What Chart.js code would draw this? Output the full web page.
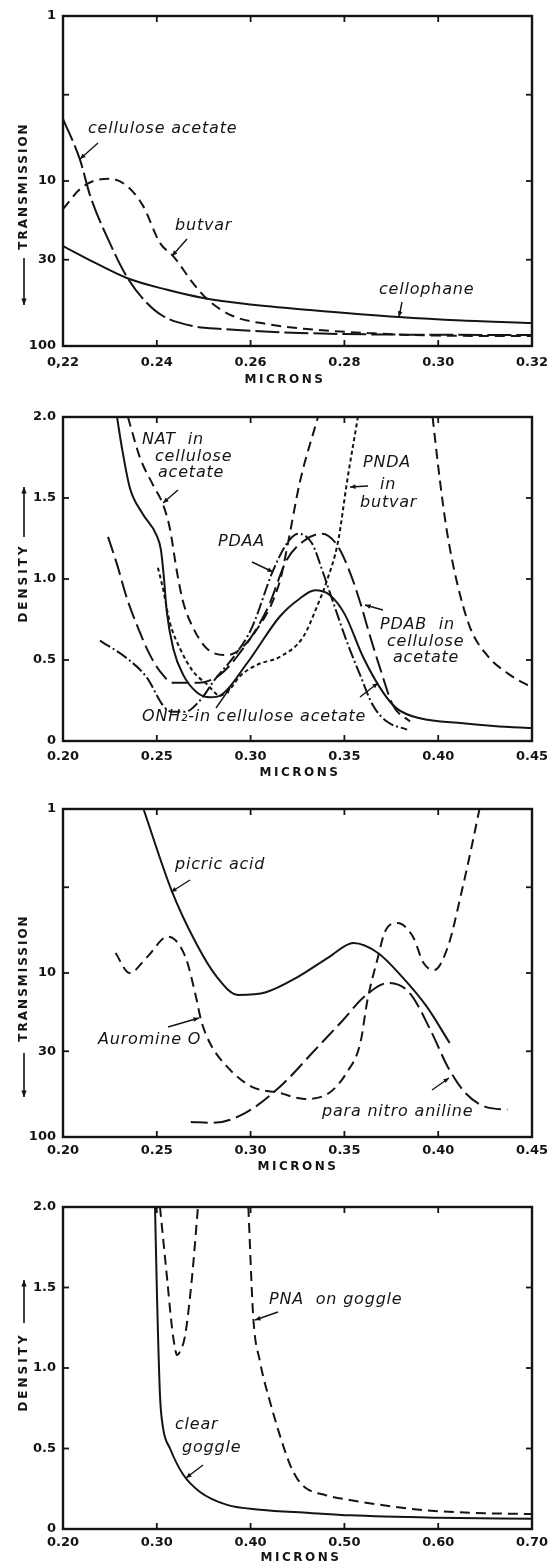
<!DOCTYPE html>
<html>
<head>
<meta charset="utf-8">
<script src="https://cdn.jsdelivr.net/npm/chart.js@4.4.1/dist/chart.umd.min.js"></script>
<style>
html,body{margin:0;padding:0;background:#fff;}
#page{position:relative;width:548px;height:1566px;overflow:hidden;background:#fff;}
.panel{position:absolute;left:0;width:548px;}
canvas{display:block;}
</style>
</head>
<body>
<div id="page">
  <div class="panel" style="top:0px;height:392px"><canvas id="c1" width="548" height="392"></canvas></div>
  <div class="panel" style="top:392px;height:396px"><canvas id="c2" width="548" height="396"></canvas></div>
  <div class="panel" style="top:788px;height:390px"><canvas id="c3" width="548" height="390"></canvas></div>
  <div class="panel" style="top:1178px;height:388px"><canvas id="c4" width="548" height="388"></canvas></div>
</div>
<script>
// ---------------- DATA ----------------
// Panel 1: transmission (%) vs microns
const p1XTicks = [0.22, 0.24, 0.26, 0.28, 0.30, 0.32];
const p1XLabels = ['0,22', '0.24', '0.26', '0.28', '0.30', '0.32'];
const p1YTicks = [1, 3, 10, 30, 100];
const p1YLabels = ['1', '', '10', '30', '100'];

const cellophaneX = [0.2200, 0.2270, 0.2336, 0.2420, 0.2499, 0.2600, 0.2727, 0.2916, 0.3050, 0.3200];
const cellophaneT = [24.8, 31.5, 38.7, 45.5, 51.2, 56.0, 60.5, 66.7, 70.0, 72.5];

const celluloseAcetateX = [0.2200, 0.2236, 0.2258, 0.2300, 0.2339, 0.2379, 0.2413, 0.2477, 0.2541, 0.2620, 0.2705, 0.2850, 0.3000, 0.3200];
const celluloseAcetateT = [4.2, 7.4, 12.3, 23.8, 39.3, 54.9, 65.8, 75.7, 78.9, 81.5, 83.4, 85.0, 85.5, 85.8];

const butvarX = [0.2200, 0.2236, 0.2265, 0.2300, 0.2336, 0.2371, 0.2407, 0.2435, 0.2477, 0.2507, 0.2562, 0.2635, 0.2720, 0.2850, 0.3000, 0.3200];
const butvarT = [14.8, 11.2, 10.0, 9.7, 10.7, 14.2, 23.8, 28.5, 41.5, 51.9, 65.8, 73.6, 78.9, 83.5, 86.5, 87.0];

// Panel 2: density vs microns
const p2XTicks = [0.20, 0.25, 0.30, 0.35, 0.40, 0.45];
const p2XLabels = ['0.20', '0.25', '0.30', '0.35', '0.40', '0.45'];
const p2YTicks = [0, 0.5, 1.0, 1.5, 2.0];
const p2YLabels = ['0', '0.5', '1.0', '1.5', '2.0'];

const onh2X = [0.2288, 0.2314, 0.2357, 0.2426, 0.2499, 0.2522, 0.2537, 0.2553, 0.2588, 0.2640, 0.2714, 0.2784, 0.2837, 0.2981, 0.3157, 0.3263, 0.3343, 0.3423, 0.3503, 0.3599, 0.3706, 0.3780, 0.3903, 0.4132, 0.4383, 0.4500];
const onh2D = [2.0, 1.81, 1.56, 1.40, 1.27, 1.18, 1.02, 0.80, 0.57, 0.41, 0.30, 0.27, 0.28, 0.48, 0.77, 0.88, 0.93, 0.90, 0.78, 0.52, 0.30, 0.20, 0.14, 0.11, 0.086, 0.08];

const natX = [0.2346, 0.2410, 0.2480, 0.2533, 0.2570, 0.2608, 0.2640, 0.2693, 0.2768, 0.2874, 0.3034, 0.3157, 0.3194, 0.3263, 0.3359, 0.3700, 0.3970, 0.4010, 0.4047, 0.4100, 0.4170, 0.4260, 0.4380, 0.4500];
const natD = [2.0, 1.75, 1.58, 1.46, 1.31, 1.04, 0.86, 0.70, 0.57, 0.53, 0.69, 0.99, 1.19, 1.60, 2.0, null, 2.0, 1.60, 1.29, 0.98, 0.70, 0.53, 0.41, 0.33];

const pndaX = [0.2506, 0.2533, 0.2570, 0.2624, 0.2693, 0.2768, 0.2837, 0.2890, 0.2943, 0.3034, 0.3157, 0.3279, 0.3354, 0.3407, 0.3466, 0.3514, 0.3572];
const pndaD = [1.07, 0.94, 0.73, 0.57, 0.43, 0.35, 0.28, 0.32, 0.40, 0.47, 0.52, 0.64, 0.83, 0.99, 1.23, 1.60, 2.0];

const pdabX = [0.2240, 0.2288, 0.2341, 0.2410, 0.2464, 0.2517, 0.2586, 0.2730, 0.2837, 0.2927, 0.3087, 0.3194, 0.3290, 0.3381, 0.3461, 0.3530, 0.3583, 0.3636, 0.3690, 0.3759, 0.3850];
const pdabD = [1.26, 1.09, 0.88, 0.67, 0.53, 0.43, 0.36, 0.36, 0.41, 0.52, 0.81, 1.12, 1.24, 1.28, 1.21, 1.04, 0.86, 0.65, 0.45, 0.22, 0.12];

const pdaaX = [0.2197, 0.2341, 0.2448, 0.2533, 0.2581, 0.2650, 0.2730, 0.2810, 0.2917, 0.3007, 0.3119, 0.3194, 0.3253, 0.3327, 0.3386, 0.3439, 0.3514, 0.3583, 0.3652, 0.3727, 0.3834];
const pdaaD = [0.62, 0.51, 0.39, 0.22, 0.18, 0.18, 0.25, 0.38, 0.53, 0.70, 1.05, 1.22, 1.28, 1.22, 1.04, 0.86, 0.61, 0.41, 0.22, 0.12, 0.07];

// Panel 3: transmission (%) vs microns
const p3XTicks = [0.20, 0.25, 0.30, 0.35, 0.40, 0.45];
const p3XLabels = ['0.20', '0.25', '0.30', '0.35', '0.40', '0.45'];
const p3YTicks = [1, 3, 10, 30, 100];
const p3YLabels = ['1', '', '10', '30', '100'];

const picricX = [0.2429, 0.2578, 0.2709, 0.2821, 0.2933, 0.3082, 0.3250, 0.3418, 0.3548, 0.3679, 0.3809, 0.3940, 0.4061];
const picricT = [1.0, 3.12, 6.56, 10.6, 13.6, 13.1, 10.6, 8.0, 6.56, 7.55, 10.6, 16.1, 26.7];

const auromineX = [0.2280, 0.2354, 0.2448, 0.2559, 0.2653, 0.2709, 0.2736, 0.2783, 0.2877, 0.3007, 0.3156, 0.3287, 0.3418, 0.3511, 0.3585, 0.3623, 0.3679, 0.3716, 0.3782, 0.3865, 0.3922, 0.3978, 0.4052, 0.4127, 0.4183, 0.4220];
const auromineT = [7.55, 10.0, 8.0, 6.0, 8.0, 14.0, 19.4, 26.7, 37.5, 49.4, 53.9, 58.6, 53.9, 40.7, 26.7, 14.6, 8.0, 5.6, 4.96, 6.0, 8.7, 9.6, 6.9, 3.12, 1.6, 1.0];

const paraNitroX = [0.2681, 0.2802, 0.2970, 0.3156, 0.3343, 0.3492, 0.3604, 0.3735, 0.3847, 0.3959, 0.4052, 0.4145, 0.4257, 0.4369];
const paraNitroT = [81, 82, 71.5, 49.4, 29.5, 19.4, 14.0, 11.5, 13.2, 22.3, 37.5, 53.9, 65.7, 68];

// Panel 4: density vs microns
const p4XTicks = [0.20, 0.30, 0.40, 0.50, 0.60, 0.70];
const p4XLabels = ['0.20', '0.30', '0.40', '0.50', '0.60', '0.70'];
const p4YTicks = [0, 0.5, 1.0, 1.5, 2.0];
const p4YLabels = ['0', '0.5', '1.0', '1.5', '2.0'];

const clearGoggleX = [0.2981, 0.3002, 0.3034, 0.3066, 0.3141, 0.3279, 0.3461, 0.3749, 0.4100, 0.4633, 0.5057, 0.6000, 0.7000];
const clearGoggleD = [2.0, 1.45, 0.83, 0.63, 0.50, 0.34, 0.23, 0.15, 0.12, 0.10, 0.085, 0.07, 0.063];

const pnaGoggleX = [0.3034, 0.3109, 0.3162, 0.3195, 0.3215, 0.3245, 0.3301, 0.3375, 0.3439, 0.3700, 0.3976, 0.4029, 0.4100, 0.4207, 0.4313, 0.4420, 0.4500, 0.4600, 0.4800, 0.5057, 0.5800, 0.6400, 0.7000];
const pnaGoggleD = [2.0, 1.56, 1.25, 1.12, 1.08, 1.10, 1.20, 1.56, 2.0, null, 2.0, 1.31, 1.04, 0.79, 0.58, 0.40, 0.31, 0.25, 0.21, 0.18, 0.12, 0.10, 0.093];

// ---------------- STYLE / LAYOUT ----------------
const INK = '#141414';
const DASH = {solid: [], longer: [24, 5], long: [17, 6], medium: [10, 6], short: [4, 3], dashdot: [12, 3, 2, 3]};
const TICK_FONT = {family: '"DejaVu Sans", sans-serif', size: 13, weight: 'bold'};
const NOTE_FONT = 'italic 16px "DejaVu Sans", sans-serif';
const PLOT_LEFT = 63, PLOT_RIGHT = 532, PAGE_W = 548;

function pts(xs, ys) { return xs.map((x, i) => ({x: x, y: ys[i]})); }
function line(xs, ys, dash) {
  return {data: pts(xs, ys), borderColor: INK, borderWidth: 2, borderDash: dash, pointRadius: 0,
          fill: false, cubicInterpolationMode: 'monotone', spanGaps: false};
}
function seg(ctx, x1, y1, x2, y2) { ctx.beginPath(); ctx.moveTo(x1, y1); ctx.lineTo(x2, y2); ctx.stroke(); }
function arrow(ctx, x1, y1, x2, y2, head) {
  head = head || 6;
  seg(ctx, x1, y1, x2, y2);
  const a = Math.atan2(y2 - y1, x2 - x1);
  ctx.beginPath();
  ctx.moveTo(x2, y2);
  ctx.lineTo(x2 - head * Math.cos(a - 0.4), y2 - head * Math.sin(a - 0.4));
  ctx.lineTo(x2 - head * Math.cos(a + 0.4), y2 - head * Math.sin(a + 0.4));
  ctx.closePath();
  ctx.fill();
}

function decoPlugin(p) {
  return {
    id: 'deco_' + p.id,
    afterDraw(chart) {
      const ctx = chart.ctx, a = chart.chartArea, xs = chart.scales.x, ys = chart.scales.y, off = p.top;
      ctx.save();
      ctx.strokeStyle = INK; ctx.fillStyle = INK; ctx.lineCap = 'butt';
      // frame
      ctx.lineWidth = 2.4;
      ctx.strokeRect(a.left, a.top, a.right - a.left, a.bottom - a.top);
      // inward tick marks on all four sides
      ctx.lineWidth = 1.8;
      xs.ticks.forEach(t => {
        const px = xs.getPixelForValue(t.value);
        seg(ctx, px, a.bottom, px, a.bottom - 6);
        seg(ctx, px, a.top, px, a.top + 6);
      });
      ys.ticks.forEach(t => {
        const py = ys.getPixelForValue(t.value);
        seg(ctx, a.left, py, a.left + 6, py);
        seg(ctx, a.right, py, a.right - 6, py);
      });
      // x axis title
      ctx.font = 'bold 12px "DejaVu Sans", sans-serif';
      ctx.letterSpacing = '2.5px';
      ctx.textAlign = 'center'; ctx.textBaseline = 'middle';
      ctx.fillText('MICRONS', p.xTitle[0], p.xTitle[1] - off);
      // y axis title (rotated) and its arrow
      ctx.save();
      ctx.translate(p.yTitle.x, p.yTitle.y - off);
      ctx.rotate(-Math.PI / 2);
      ctx.letterSpacing = p.yTitle.spacing;
      ctx.fillText(p.yTitle.text, 0, 0);
      ctx.restore();
      ctx.lineWidth = 1.6;
      const ya = p.yTitle.arrow;
      arrow(ctx, ya[0], ya[1] - off, ya[2], ya[3] - off, 7);
      // handwritten annotations
      ctx.letterSpacing = '0.8px';
      ctx.font = NOTE_FONT;
      ctx.textAlign = 'left'; ctx.textBaseline = 'middle';
      p.notes.forEach(n => ctx.fillText(n[0], n[1], n[2] - off));
      ctx.lineWidth = 1.4;
      p.arrows.forEach(r => arrow(ctx, r[0], r[1] - off, r[2], r[3] - off, 6));
      ctx.restore();
    }
  };
}

function makeChart(p) {
  const yIsLog = p.yType === 'logarithmic';
  const cfg = {
    type: 'line',
    data: {datasets: p.datasets},
    options: {
      responsive: false, animation: false, events: [],
      layout: {padding: {left: 0, right: PAGE_W - PLOT_RIGHT, top: p.plotTop - p.top, bottom: 0}},
      plugins: {legend: {display: false}, tooltip: {enabled: false}, title: {display: false}},
      elements: {line: {borderCapStyle: 'butt'}},
      scales: {
        x: {
          type: 'linear', min: p.xTicks[0], max: p.xTicks[p.xTicks.length - 1],
          afterBuildTicks: s => { s.ticks = p.xTicks.map(v => ({value: v})); },
          afterFit: s => { s.height = p.height - (p.plotBottom - p.top); s.paddingLeft = 0; s.paddingRight = 0; },
          grid: {display: false, drawTicks: false}, border: {display: false},
          ticks: {autoSkip: false, maxRotation: 0, minRotation: 0, padding: p.xPad, labelOffset: 0,
                  font: TICK_FONT, color: INK, callback: (v, i) => p.xLabels[i]}
        },
        y: {
          type: p.yType, min: p.yTicks[0], max: p.yTicks[p.yTicks.length - 1], reverse: yIsLog,
          afterBuildTicks: s => { s.ticks = p.yTicks.map(v => ({value: v})); },
          afterFit: s => { s.width = PLOT_LEFT; s.paddingTop = 0; s.paddingBottom = 0; },
          grid: {display: false, drawTicks: false}, border: {display: false},
          ticks: {autoSkip: false, padding: 7, font: TICK_FONT, color: INK,
                  callback: function(v, i) { return p.yLabels[i]; }}
        }
      }
    },
    plugins: [decoPlugin(p)]
  };
  return new Chart(document.getElementById(p.id), cfg);
}

const panels = [
  {
    id: 'c1', top: 0, height: 392, plotTop: 16, plotBottom: 346, xPad: 9, yType: 'logarithmic',
    xTicks: p1XTicks, xLabels: p1XLabels, yTicks: p1YTicks, yLabels: p1YLabels,
    datasets: [
      line(cellophaneX, cellophaneT, DASH.solid),
      line(celluloseAcetateX, celluloseAcetateT, DASH.longer),
      line(butvarX, butvarT, DASH.medium)
    ],
    xTitle: [285, 380],
    yTitle: {text: 'TRANSMISSION', x: 24, y: 186, spacing: '2px', arrow: [24, 258, 24, 305]},
    notes: [['cellulose acetate', 88, 129], ['butvar', 175, 226], ['cellophane', 379, 290]],
    arrows: [[98, 143, 80, 159], [187, 239, 172, 256], [402, 302, 399, 317]]
  },
  {
    id: 'c2', top: 392, height: 396, plotTop: 417, plotBottom: 741, xPad: 8, yType: 'linear',
    xTicks: p2XTicks, xLabels: p2XLabels, yTicks: p2YTicks, yLabels: p2YLabels,
    datasets: [
      line(onh2X, onh2D, DASH.solid),
      line(natX, natD, DASH.medium),
      line(pndaX, pndaD, DASH.short),
      line(pdabX, pdabD, DASH.long),
      line(pdaaX, pdaaD, DASH.dashdot)
    ],
    xTitle: [300, 773],
    yTitle: {text: 'DENSITY', x: 24, y: 583, spacing: '3px', arrow: [24, 537, 24, 487]},
    notes: [['NAT  in', 142, 440], ['cellulose', 155, 457], ['acetate', 158, 473],
            ['PDAA', 218, 542],
            ['PNDA', 363, 463], ['in', 380, 485], ['butvar', 360, 503],
            ['PDAB  in', 380, 625], ['cellulose', 387, 642], ['acetate', 393, 658],
            ['ONH\u2082-in cellulose acetate', 142, 717]],
    arrows: [[178, 490, 163, 503], [252, 562, 273, 572], [368, 486, 350, 487], [383, 610, 365, 605],
             [216, 708, 230, 688], [360, 697, 378, 683]]
  },
  {
    id: 'c3', top: 788, height: 390, plotTop: 809, plotBottom: 1137, xPad: 6, yType: 'logarithmic',
    xTicks: p3XTicks, xLabels: p3XLabels, yTicks: p3YTicks, yLabels: p3YLabels,
    datasets: [
      line(picricX, picricT, DASH.solid),
      line(auromineX, auromineT, DASH.medium),
      line(paraNitroX, paraNitroT, DASH.long)
    ],
    xTitle: [298, 1167],
    yTitle: {text: 'TRANSMISSION', x: 24, y: 978, spacing: '2px', arrow: [24, 1053, 24, 1097]},
    notes: [['picric acid', 175, 865], ['Auromine O', 98, 1040], ['para nitro aniline', 322, 1112]],
    arrows: [[190, 880, 171, 892], [168, 1027, 199, 1018], [432, 1090, 449, 1078]]
  },
  {
    id: 'c4', top: 1178, height: 388, plotTop: 1207, plotBottom: 1529, xPad: 6, yType: 'linear',
    xTicks: p4XTicks, xLabels: p4XLabels, yTicks: p4YTicks, yLabels: p4YLabels,
    datasets: [
      line(clearGoggleX, clearGoggleD, DASH.solid),
      line(pnaGoggleX, pnaGoggleD, DASH.medium)
    ],
    xTitle: [301, 1558],
    yTitle: {text: 'DENSITY', x: 24, y: 1372, spacing: '3px', arrow: [24, 1323, 24, 1280]},
    notes: [['PNA  on goggle', 269, 1300], ['clear', 175, 1425], ['goggle', 182, 1448]],
    arrows: [[278, 1312, 255, 1320], [203, 1465, 186, 1478]]
  }
];

panels.forEach(makeChart);
</script>
</body>
</html>
